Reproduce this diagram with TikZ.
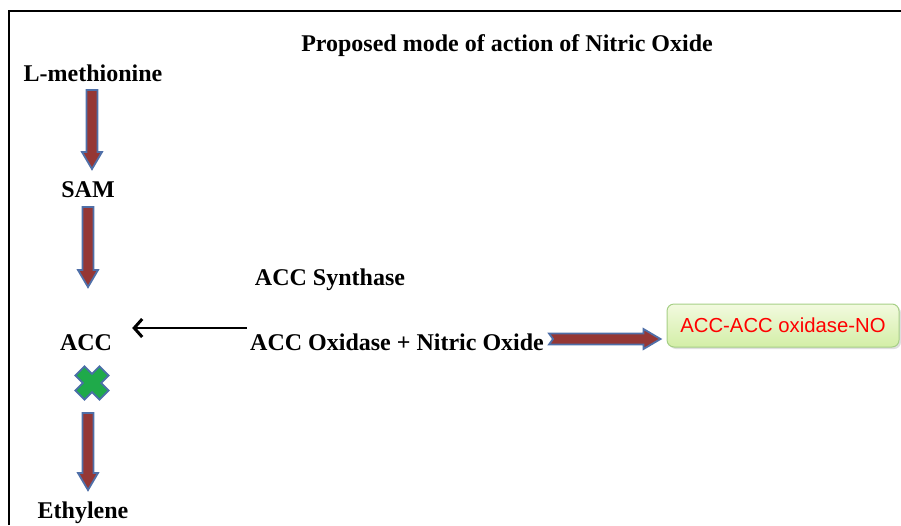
\documentclass[tikz,border=0pt]{standalone}
\usepackage{fontspec}
\setmainfont{Liberation Serif}
\newfontfamily\boxfont{Liberation Sans}
\usetikzlibrary{calc,arrows.meta,shadows}

\definecolor{arrowred}{HTML}{953735}
\definecolor{arrowblue}{HTML}{4F6FA8}
\definecolor{crossgreen}{HTML}{1FAA4A}
\definecolor{crossblue}{HTML}{4A6FA8}
\definecolor{boxtop}{HTML}{F2FADF}
\definecolor{boxbottom}{HTML}{D3EEA6}
\definecolor{boxedge}{HTML}{A6CF86}
\definecolor{resultred}{HTML}{FF0000}

\tikzset{
  tail notch/.store in=\arrownotch,
  tail notch=0pt,
  % broad two-colour block arrow drawn as a polygon from start to target
  blockarrow/.style={draw=arrowblue, fill=arrowred, line width=1.8pt, line join=miter,
    to path={
      ($(\tikztostart)!5.5pt!90:(\tikztotarget)$)
      -- ($($(\tikztotarget)!17pt!(\tikztostart)$)!5.5pt!-90:(\tikztostart)$)
      -- ($($(\tikztotarget)!17pt!(\tikztostart)$)!10pt!-90:(\tikztostart)$)
      -- (\tikztotarget)
      -- ($($(\tikztotarget)!17pt!(\tikztostart)$)!10pt!90:(\tikztostart)$)
      -- ($($(\tikztotarget)!17pt!(\tikztostart)$)!5.5pt!90:(\tikztostart)$)
      -- ($(\tikztostart)!5.5pt!-90:(\tikztotarget)$)
      -- ($(\tikztostart)!\arrownotch!(\tikztotarget)$)
      -- cycle}},
  term/.style={font=\fontsize{24}{28}\selectfont\bfseries, inner sep=0pt, anchor=base},
  resultbox/.style={rounded corners=7pt, minimum width=232pt, minimum height=43pt,
    top color=boxtop, bottom color=boxbottom, draw=boxedge, line width=1pt,
    drop shadow={opacity=0.25, shadow xshift=2pt, shadow yshift=-2pt},
    font=\boxfont\fontsize{20.3}{23}\selectfont, text=resultred, inner sep=0pt},
  thinarrow/.style={line width=2pt, -{Straight Barb[length=8pt,width=18pt,line width=3pt]}},
}

\begin{document}
\begin{tikzpicture}[x=1pt,y=-1pt]
\useasboundingbox (0,0) rectangle (901,525);

% frame
\draw[line width=2pt] (9,525) -- (9,11) -- (901,11);

% labels
\node[term] (title)  at (507,51)  {Proposed mode of action of Nitric Oxide};
\node[term] (lmet)   at (93,81)   {L-methionine};
\node[term] (sam)    at (88,197)  {SAM};
\node[term] (accsyn) at (330,285) {ACC Synthase};
\node[term] (acc)    at (86,350)  {ACC};
\node[term] (accox)  at (397,350) {ACC Oxidase + Nitric Oxide};
\node[term] (eth)    at (83,518)  {Ethylene};

% complex formed
\node[resultbox] (box) at (783,325.5) {ACC-ACC oxidase-NO};

% pathway arrows
\draw[blockarrow] ($(lmet.base)+(-1,9)$) to ($(sam.base)+(4,-28)$);
\draw[blockarrow] ($(sam.base)+(0,10)$) to ($(acc.base)+(2,-63)$);
\draw[blockarrow] ($(acc.base)+(2,63)$) to ($(eth.base)+(5,-28)$);
\draw[blockarrow, tail notch=4pt] ($(accox.base east)+(5,-11)$) to ($(box.west)+(-6,13.5)$);

\draw[thinarrow] ($(accox.base west)+(-3,-22)$) -- ($(acc.base east)+(20,-22)$);

% blocked step
\coordinate (xmark) at ($(acc.base)+(6,33)$);
\begin{scope}[shift={(xmark)}, rotate=45]
  \draw[fill=crossgreen, draw=crossblue, line width=1.8pt, line join=miter]
    (-6.5,-17) -- (6.5,-17) -- (6.5,-6.5) -- (17,-6.5) -- (17,6.5) -- (6.5,6.5) -- (6.5,17)
    -- (-6.5,17) -- (-6.5,6.5) -- (-17,6.5) -- (-17,-6.5) -- (-6.5,-6.5) -- cycle;
\end{scope}
\end{tikzpicture}
\end{document}
